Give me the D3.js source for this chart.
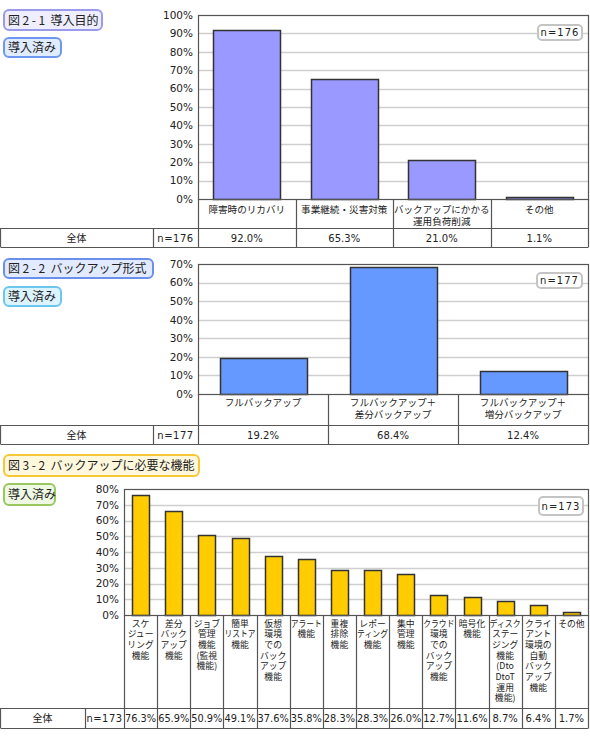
<!DOCTYPE html>
<html><head><meta charset="utf-8">
<script src="https://cdn.jsdelivr.net/npm/d3@7"></script>
<style>
body{margin:0;background:#fff;}
svg{display:block;}
text{font-family:"DejaVu Sans","Noto Sans CJK JP",sans-serif;fill:#222;}
.jp{font-family:"Noto Sans CJK JP",sans-serif;}
</style></head>
<body>
<svg id="c" width="590" height="738"></svg>
<script>
// ---- data ----
const cats1 = [["障害時のリカバリ"], ["事業継続・災害対策"], ["バックアップにかかる", "運用負荷削減"], ["その他"]];
const vals1 = [92.0, 65.3, 21.0, 1.1];
const ticks1 = [0, 10, 20, 30, 40, 50, 60, 70, 80, 90, 100];

const cats2 = [["フルバックアップ"], ["フルバックアップ＋", "差分バックアップ"], ["フルバックアップ＋", "増分バックアップ"]];
const vals2 = [19.2, 68.4, 12.4];
const ticks2 = [0, 10, 20, 30, 40, 50, 60, 70];

const cats3 = [
  ["スケ", "ジュー", "リング", "機能"],
  ["差分", "バック", "アップ", "機能"],
  ["ジョブ", "管理", "機能", "(監視", "機能)"],
  ["簡単", "リストア", "機能"],
  ["仮想", "環境", "での", "バック", "アップ", "機能"],
  ["アラート", "機能"],
  ["重複", "排除", "機能"],
  ["レポー", "ティング", "機能"],
  ["集中", "管理", "機能"],
  ["クラウド", "環境", "での", "バック", "アップ", "機能"],
  ["暗号化", "機能"],
  ["ディスク", "ステー", "ジング", "機能", "(Dto", "DtoT", "運用", "機能)"],
  ["クライ", "アント", "環境の", "自動", "バック", "アップ", "機能"],
  ["その他"]
];
const vals3 = [76.3, 65.9, 50.9, 49.1, 37.6, 35.8, 28.3, 28.3, 26.0, 12.7, 11.6, 8.7, 6.4, 1.7];
const ticks3 = [0, 10, 20, 30, 40, 50, 60, 70, 80];

const titles = ["図2-1 導入目的", "図2-2 バックアップ形式", "図3-2 バックアップに必要な機能"];
const subTitle = "導入済み";
const nLabels = ["n=176", "n=177", "n=173"];
const rowLabel = "全体";

// ---- drawing ----
const svg = d3.select("#c");

function fit(sel, maxW) {
  sel.each(function () {
    const w = this.getComputedTextLength();
    if (w > maxW) {
      d3.select(this).attr("textLength", maxW).attr("lengthAdjust", "spacingAndGlyphs");
    }
  });
}

function labelBox(x, y, w, h, txt, fill, stroke) {
  svg.append("rect").attr("x", x).attr("y", y).attr("width", w).attr("height", h)
    .attr("rx", 5).attr("fill", fill).attr("stroke", stroke).attr("stroke-width", 2);
  const t = svg.append("text").attr("class", "jp").attr("x", x + 4).attr("y", y + h / 2 + 4.5)
    .attr("font-size", 12);
  const sp = txt.indexOf(" ");
  if (sp > 0) {
    t.append("tspan").attr("letter-spacing", 2.6).text(txt.slice(0, sp));
    t.append("tspan").text(txt.slice(sp));
  } else {
    t.text(txt);
  }
}

function drawChart(o) {
  const g = svg.append("g");
  const y = d3.scaleLinear().domain([0, o.ymax]).range([o.zero, o.top]);
  const xc = d3.scaleBand().domain(d3.range(o.cats.length)).range([o.left, o.right]).padding(0);
  const xb = d3.scaleBand().domain(d3.range(o.cats.length)).range([o.left, o.right])
    .paddingInner(o.pad).paddingOuter(o.pad / 2);
  const W = o.right - o.left;

  // gridlines
  g.append("g").selectAll("line").data(o.ticks.filter(t => t > 0 && t < o.ymax)).join("line")
    .attr("x1", o.left).attr("x2", o.right)
    .attr("y1", d => Math.round(y(d)) + 0.5).attr("y2", d => Math.round(y(d)) + 0.5)
    .attr("stroke", "#cfcfcf").attr("stroke-width", 1.5);

  // y axis labels
  const ax = d3.axisLeft(y).tickValues(o.ticks).tickSize(0).tickPadding(5).tickFormat(d => d + "%");
  const ag = g.append("g").attr("transform", `translate(${o.left},0)`).call(ax);
  ag.select(".domain").remove();
  ag.selectAll("text").attr("font-size", 10.5).attr("font-family", "DejaVu Sans").attr("fill", "#222");

  // n box
  g.append("rect").attr("x", o.nbox[0]).attr("y", o.nbox[1]).attr("width", o.nbox[2]).attr("height", o.nbox[3])
    .attr("rx", 4).attr("fill", "#fff").attr("stroke", "#c4c4c4").attr("stroke-width", 2);
  g.append("text").attr("x", o.nbox[0] + o.nbox[2] / 2).attr("y", o.nbox[1] + o.nbox[3] / 2 + 3.5)
    .attr("text-anchor", "middle").attr("font-size", 10).attr("letter-spacing", 1).text(o.n);

  // bars
  g.append("g").selectAll("rect").data(o.vals).join("rect")
    .attr("x", (d, i) => Math.round(xb(i)) + 0.5)
    .attr("y", d => Math.round(y(d)) + 0.5)
    .attr("width", Math.round(xb.bandwidth()))
    .attr("height", d => Math.max(0, Math.round(o.zero) - Math.round(y(d))))
    .attr("fill", o.color).attr("stroke", "#333").attr("stroke-width", 1.5);

  // frame
  g.append("rect").attr("x", o.left + 0.5).attr("y", o.top + 0.5).attr("width", W).attr("height", o.zero - o.top)
    .attr("fill", "none").attr("stroke", "#555").attr("stroke-width", 1.2);

  // table lines
  const L = "#555";
  const ln = (x1, y1, x2, y2) => g.append("line").attr("x1", x1).attr("y1", y1).attr("x2", x2).attr("y2", y2)
    .attr("stroke", L).attr("stroke-width", 1.2);
  ln(o.left + 0.5, o.zero, o.left + 0.5, o.tbot);
  d3.range(o.cats.length).forEach(i => {
    const xx = Math.round(xc(i) + xc.bandwidth()) + 0.5;
    ln(xx, o.zero, xx, o.tbot);
  });
  ln(0.5, o.cbot + 0.5, o.right + 0.5, o.cbot + 0.5);
  ln(0.5, o.tbot + 0.5, o.right + 0.5, o.tbot + 0.5);
  ln(0.5, o.cbot, 0.5, o.tbot);
  ln(o.ncol + 0.5, o.cbot, o.ncol + 0.5, o.tbot);

  // category labels
  const ct = g.append("g").selectAll("text").data(o.cats).join("text")
    .attr("class", "jp").attr("font-size", o.cfs).attr("text-anchor", "middle")
    .attr("x", (d, i) => xc(i) + xc.bandwidth() / 2).attr("y", o.catY);
  ct.each(function (lines, i) {
    const cx = xc(i) + xc.bandwidth() / 2;
    d3.select(this).selectAll("tspan").data(lines).join("tspan")
      .attr("x", cx).attr("y", (d, k) => o.catY + k * o.lh)
      .text(d => d)
      .call(fit, xc.bandwidth() - 2);
  });

  // table row
  const ty = (o.cbot + o.tbot) / 2 + 4;
  g.append("text").attr("class", "jp").attr("x", o.ncol / 2).attr("y", ty).attr("text-anchor", "middle")
    .attr("font-size", 10).text(rowLabel);
  g.append("text").attr("x", (o.ncol + o.left) / 2).attr("y", ty).attr("text-anchor", "middle")
    .attr("font-size", 10).attr("letter-spacing", 0.5).text(o.n).call(fit, o.left - o.ncol - 3);
  g.append("g").selectAll("text").data(o.vals).join("text")
    .attr("x", (d, i) => xc(i) + xc.bandwidth() / 2).attr("y", ty).attr("text-anchor", "middle")
    .attr("font-size", 10).text(d => d.toFixed(1) + "%")
    .call(fit, xc.bandwidth() - 2);
}

// title boxes
labelBox(4, 10, 98, 20, titles[0], "#eeeeff", "#9a9aee");
labelBox(4, 38, 57, 19, subTitle, "#e0ecff", "#6f96f0");
labelBox(4, 259, 149, 19, titles[1], "#e2eaff", "#6a90ea");
labelBox(4, 287, 57, 19, subTitle, "#dcf4ff", "#6cc6ee");
labelBox(4, 455, 195, 21, titles[2], "#fff8dc", "#f5c838");
labelBox(4, 484, 51, 21, subTitle, "#eef8e2", "#99c860");

drawChart({cats: cats1, vals: vals1, ticks: ticks1, ymax: 100, top: 15, zero: 199, cbot: 228, tbot: 247,
  left: 198, right: 588, ncol: 153, pad: 0.31, color: "#9999ff", n: nLabels[0], nbox: [538, 25, 44, 15],
  catY: 213, lh: 11.5, cfs: 9.6});
drawChart({cats: cats2, vals: vals2, ticks: ticks2, ymax: 70, top: 264, zero: 394, cbot: 425, tbot: 444,
  left: 198, right: 588, ncol: 153, pad: 0.333, color: "#6699ff", n: nLabels[1], nbox: [537, 273, 45, 15],
  catY: 406, lh: 11.8, cfs: 9.6});
drawChart({cats: cats3, vals: vals3, ticks: ticks3, ymax: 80, top: 489, zero: 615, cbot: 708, tbot: 728,
  left: 124, right: 588, ncol: 85, pad: 0.49, color: "#ffcc00", n: nLabels[2], nbox: [539, 497, 44, 18],
  catY: 626.5, lh: 10.7, cfs: 8.8});
</script>
</body></html>
